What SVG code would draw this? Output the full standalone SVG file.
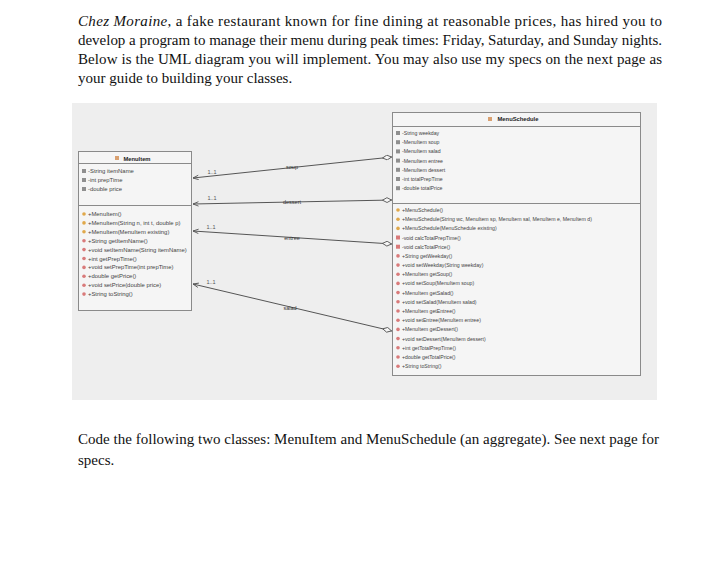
<svg xmlns="http://www.w3.org/2000/svg" width="726" height="577" viewBox="0 0 726 577">
<style>
.para{font-family:"Liberation Serif","Times New Roman",serif;font-size:15px;fill:#111}
.panel{fill:#eeeeee}
.box{fill:#f5f5f5;stroke:#8a8a8a;stroke-width:1}
.sep{stroke:#8a8a8a;stroke-width:1}
.title{font-family:"Liberation Sans",Arial,sans-serif;font-size:5.8px;font-weight:bold;fill:#222;text-anchor:middle}
.mem{font-family:"Liberation Sans",Arial,sans-serif;font-size:5.9px;fill:#444}
.mem2{font-family:"Liberation Sans",Arial,sans-serif;font-size:5.2px;fill:#444}
.lbl{font-family:"Liberation Sans",Arial,sans-serif;font-size:5.5px;fill:#333}
.mlt{font-family:"Liberation Sans",Arial,sans-serif;font-size:5.5px;fill:#555}
.conn{stroke:#555;stroke-width:1;fill:none;marker-start:url(#dia);marker-end:url(#arr)}
.fi{fill:#8f8f8f}
.co{fill:#e0a84a}
.me{fill:#d97a7a}
.cl{fill:#d9a070}
</style>
<defs>
<marker id="dia" markerWidth="10" markerHeight="6" refX="0" refY="3" orient="auto" markerUnits="userSpaceOnUse">
<path d="M0.5,3 L5,0.6 L9.5,3 L5,5.4 z" fill="#f5f5f5" stroke="#555" stroke-width="0.9"/>
</marker>
<marker id="arr" markerWidth="7" markerHeight="6" refX="6" refY="3" orient="auto" markerUnits="userSpaceOnUse">
<path d="M0.5,0.8 L6,3 L0.5,5.2" fill="none" stroke="#555" stroke-width="0.9"/>
</marker>
</defs>
<rect width="726" height="577" fill="#ffffff"/>

<text class="para" x="78" y="26" textLength="584" lengthAdjust="spacing"><tspan font-style="italic">Chez Moraine</tspan>, a fake restaurant known for fine dining at reasonable prices, has hired you to</text>
<text class="para" x="78" y="45" textLength="584" lengthAdjust="spacing">develop a program to manage their menu during peak times: Friday, Saturday, and Sunday nights.</text>
<text class="para" x="78" y="64" textLength="584" lengthAdjust="spacing">Below is the UML diagram you will implement. You may also use my specs on the next page as</text>
<text class="para" x="78" y="83">your guide to building your classes.</text>

<rect class="panel" x="72" y="103" width="585" height="297"/>

<g id="node-menuitem">
<rect class="box" x="78.5" y="151.5" width="113" height="159"/>
<line class="sep" x1="78.5" y1="163.5" x2="191.5" y2="163.5"/>
<line class="sep" x1="78.5" y1="205.5" x2="191.5" y2="205.5"/>
<rect class="cl" x="115" y="156" width="4" height="4"/>
<text class="title" x="137" y="161">MenuItem</text>
<rect class="fi" x="82" y="169" width="4" height="4"/>
<text class="mem" x="88" y="173">-String itemName</text>
<rect class="fi" x="82" y="178" width="4" height="4"/>
<text class="mem" x="88" y="182">-int prepTime</text>
<rect class="fi" x="82" y="187" width="4" height="4"/>
<text class="mem" x="88" y="191">-double price</text>
<circle class="co" cx="84" cy="214" r="1.8"/>
<text class="mem" x="88" y="216">+MenuItem()</text>
<circle class="co" cx="84" cy="222.9" r="1.8"/>
<text class="mem" x="88" y="224.9">+MenuItem(String n, int t, double p)</text>
<circle class="co" cx="84" cy="231.8" r="1.8"/>
<text class="mem" x="88" y="233.8">+MenuItem(MenuItem existing)</text>
<circle class="me" cx="84" cy="240.7" r="1.8"/>
<text class="mem" x="88" y="242.7">+String getItemName()</text>
<circle class="me" cx="84" cy="249.6" r="1.8"/>
<text class="mem" x="88" y="251.6">+void setItemName(String itemName)</text>
<circle class="me" cx="84" cy="258.5" r="1.8"/>
<text class="mem" x="88" y="260.5">+int getPrepTime()</text>
<circle class="me" cx="84" cy="267.4" r="1.8"/>
<text class="mem" x="88" y="269.4">+void setPrepTime(int prepTime)</text>
<circle class="me" cx="84" cy="276.3" r="1.8"/>
<text class="mem" x="88" y="278.3">+double getPrice()</text>
<circle class="me" cx="84" cy="285.2" r="1.8"/>
<text class="mem" x="88" y="287.2">+void setPrice(double price)</text>
<circle class="me" cx="84" cy="294.1" r="1.8"/>
<text class="mem" x="88" y="296.1">+String toString()</text>
</g>

<g id="node-menuschedule">
<rect class="box" x="392.5" y="112.5" width="248" height="263"/>
<line class="sep" x1="392.5" y1="126.5" x2="640.5" y2="126.5"/>
<line class="sep" x1="392.5" y1="203.5" x2="640.5" y2="203.5"/>
<rect class="cl" x="488" y="117" width="4" height="4"/>
<text class="title" x="518" y="121">MenuSchedule</text>
<rect class="fi" x="396" y="131" width="4" height="4"/>
<text class="mem2" x="402" y="135">-String weekday</text>
<rect class="fi" x="396" y="140.2" width="4" height="4"/>
<text class="mem2" x="402" y="144.2">-MenuItem soup</text>
<rect class="fi" x="396" y="149.4" width="4" height="4"/>
<text class="mem2" x="402" y="153.4">-MenuItem salad</text>
<rect class="fi" x="396" y="158.6" width="4" height="4"/>
<text class="mem2" x="402" y="162.6">-MenuItem entree</text>
<rect class="fi" x="396" y="167.8" width="4" height="4"/>
<text class="mem2" x="402" y="171.8">-MenuItem dessert</text>
<rect class="fi" x="396" y="177" width="4" height="4"/>
<text class="mem2" x="402" y="181">-int totalPrepTime</text>
<rect class="fi" x="396" y="186.2" width="4" height="4"/>
<text class="mem2" x="402" y="190.2">-double totalPrice</text>
<circle class="co" cx="398" cy="210" r="1.8"/>
<text class="mem2" x="402" y="212">+MenuSchedule()</text>
<circle class="co" cx="398" cy="219.2" r="1.8"/>
<text class="mem2" x="402" y="221.2">+MenuSchedule(String wc, MenuItem sp, MenuItem sal, MenuItem e, MenuItem d)</text>
<circle class="co" cx="398" cy="228.4" r="1.8"/>
<text class="mem2" x="402" y="230.4">+MenuSchedule(MenuSchedule existing)</text>
<rect class="me" x="396" y="235.5" width="4" height="4"/>
<text class="mem2" x="402" y="239.5">-void calcTotalPrepTime()</text>
<rect class="me" x="396" y="244.7" width="4" height="4"/>
<text class="mem2" x="402" y="248.7">-void calcTotalPrice()</text>
<circle class="me" cx="398" cy="255.9" r="1.8"/>
<text class="mem2" x="402" y="257.9">+String getWeekday()</text>
<circle class="me" cx="398" cy="265.1" r="1.8"/>
<text class="mem2" x="402" y="267.1">+void setWeekday(String weekday)</text>
<circle class="me" cx="398" cy="274.3" r="1.8"/>
<text class="mem2" x="402" y="276.3">+MenuItem getSoup()</text>
<circle class="me" cx="398" cy="283.4" r="1.8"/>
<text class="mem2" x="402" y="285.4">+void setSoup(MenuItem soup)</text>
<circle class="me" cx="398" cy="292.6" r="1.8"/>
<text class="mem2" x="402" y="294.6">+MenuItem getSalad()</text>
<circle class="me" cx="398" cy="301.8" r="1.8"/>
<text class="mem2" x="402" y="303.8">+void setSalad(MenuItem salad)</text>
<circle class="me" cx="398" cy="311" r="1.8"/>
<text class="mem2" x="402" y="313">+MenuItem getEntree()</text>
<circle class="me" cx="398" cy="320.2" r="1.8"/>
<text class="mem2" x="402" y="322.2">+void setEntree(MenuItem entree)</text>
<circle class="me" cx="398" cy="329.4" r="1.8"/>
<text class="mem2" x="402" y="331.4">+MenuItem getDessert()</text>
<circle class="me" cx="398" cy="338.6" r="1.8"/>
<text class="mem2" x="402" y="340.6">+void setDessert(MenuItem dessert)</text>
<circle class="me" cx="398" cy="347.8" r="1.8"/>
<text class="mem2" x="402" y="349.8">+int getTotalPrepTime()</text>
<circle class="me" cx="398" cy="357" r="1.8"/>
<text class="mem2" x="402" y="359">+double getTotalPrice()</text>
<circle class="me" cx="398" cy="366.2" r="1.8"/>
<text class="mem2" x="402" y="368.2">+String toString()</text>
</g>

<g id="connectors">
<path class="conn" d="M392,157 L193,178"/>
<text class="lbl" x="292" y="169" text-anchor="middle">soup</text>
<text class="mlt" x="212" y="174" text-anchor="middle">1..1</text>
<path class="conn" d="M392,200 L193,204"/>
<text class="lbl" x="292" y="204" text-anchor="middle">dessert</text>
<text class="mlt" x="212" y="200" text-anchor="middle">1..1</text>
<path class="conn" d="M392,244 L193,231"/>
<text class="lbl" x="292" y="240" text-anchor="middle">entree</text>
<text class="mlt" x="211" y="229" text-anchor="middle">1..1</text>
<path class="conn" d="M392,331 L193,284"/>
<text class="lbl" x="290" y="310" text-anchor="middle">salad</text>
<text class="mlt" x="211" y="284" text-anchor="middle">1..1</text>
</g>

<text class="para" x="78" y="444" textLength="581" lengthAdjust="spacing">Code the following two classes: MenuItem and MenuSchedule (an aggregate). See next page for</text>
<text class="para" x="78" y="465">specs.</text>
</svg>
